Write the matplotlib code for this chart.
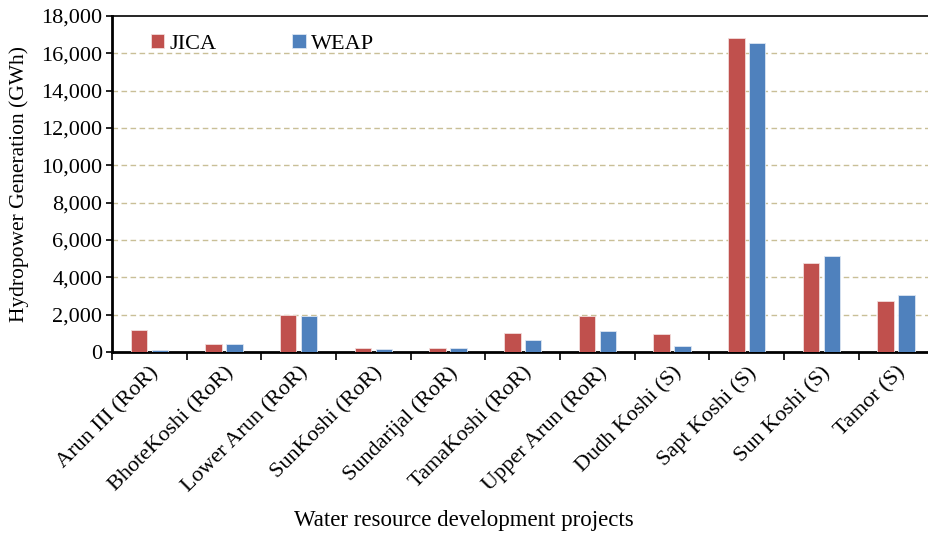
import matplotlib.pyplot as plt
import numpy as np
from matplotlib.ticker import FuncFormatter

projects = ["Arun III (RoR)", "BhoteKoshi (RoR)", "Lower Arun (RoR)", "SunKoshi (RoR)",
            "Sundarijal (RoR)", "TamaKoshi (RoR)", "Upper Arun (RoR)", "Dudh Koshi (S)",
            "Sapt Koshi (S)", "Sun Koshi (S)", "Tamor (S)"]
jica = [1170, 430, 1970, 200, 200, 1020, 1950, 970, 16810, 4750, 2740]
weap = [90, 400, 1920, 180, 200, 630, 1110, 310, 16560, 5140, 3060]

plt.rcParams['font.family'] = ['Liberation Serif', 'DejaVu Serif']

fig = plt.figure(figsize=(9.29, 5.34), dpi=100)
ax = fig.add_axes([0.1206, 0.341, 0.8794, 0.629])

x = np.arange(len(projects))
w = 0.22
ax.bar(x - 0.14, jica, w, color="#C0504D", edgecolor="#F2DCDB", linewidth=0.6, label="JICA", zorder=3)
ax.bar(x + 0.14, weap, w, color="#4F81BD", edgecolor="#DCE6F2", linewidth=0.6, label="WEAP", zorder=3)

ax.set_ylim(0, 18000)
ax.set_xlim(-0.5, 10.44)
ax.set_yticks(np.arange(0, 18001, 2000))
ax.yaxis.set_major_formatter(FuncFormatter(lambda v, p: f"{int(v):,}"))
for yv in range(2000, 18000, 2000):
    ax.axhline(yv, color="#C9BF97", linestyle=(0, (4, 2.5)), linewidth=1.0, zorder=1)

ax.set_xticks(x)
ax.set_xticklabels(projects, rotation=45, ha="right", rotation_mode="anchor", fontsize=16)
ax.tick_params(axis="x", which="major", length=0, pad=8)
ax.set_xticks(np.arange(-0.5, 10.5, 1.0), minor=True)
ax.tick_params(axis="x", which="minor", length=6, width=1.2, direction="out")
ax.tick_params(axis="y", labelsize=16, length=4, width=1.2, direction="out", pad=3)

for s in ["left", "bottom"]:
    ax.spines[s].set_linewidth(2)
ax.spines["top"].set_linewidth(1.2)
ax.spines["right"].set_visible(False)

ax.set_ylabel("Hydropower Generation (GWh)", fontsize=15.5, labelpad=9)
ax.set_xlabel("Water resource development projects", fontsize=16.5)
ax.xaxis.set_label_coords(0.431, -0.47)

ax.legend(loc="upper left", bbox_to_anchor=(0.023, 1.005), ncol=2, frameon=False, fontsize=16,
          handlelength=0.6, handleheight=0.6, handletextpad=0.25, columnspacing=3.4)

fig.savefig("out.png", dpi=100)
